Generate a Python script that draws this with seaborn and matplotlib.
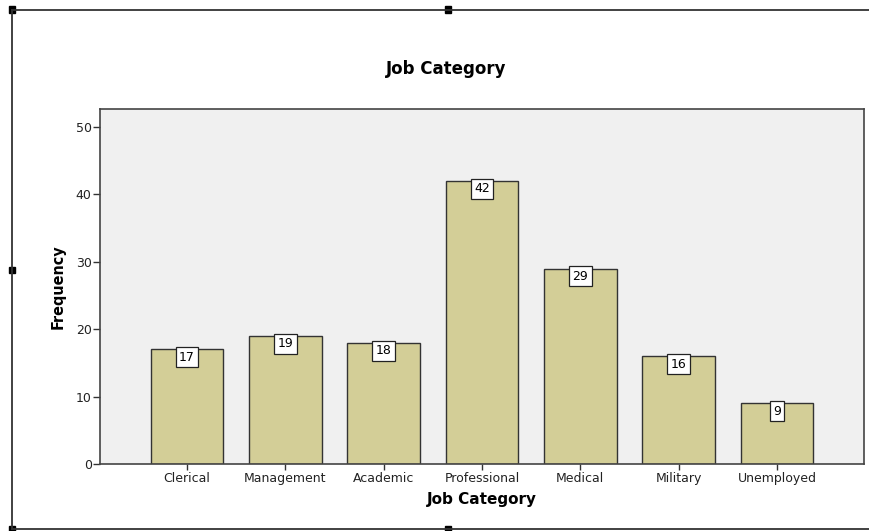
import matplotlib
matplotlib.use('Agg')
import matplotlib.pyplot as plt
import matplotlib.patches as mpatches
import matplotlib.lines as mlines
import seaborn as sns

# data
categories = ['Clerical', 'Management', 'Academic', 'Professional', 'Medical', 'Military', 'Unemployed']
frequency = [17, 19, 18, 42, 29, 16, 9]
y_ticks = [0, 10, 20, 30, 40, 50]

W, H = 869, 531
fig = plt.figure(figsize=(W / 100, H / 100), dpi=100)
fig.patch.set_facecolor('white')

# plot area in pixels: left 100, right 864, top 108.5, bottom 464
ax = fig.add_axes([100 / W, (H - 464) / H, 764 / W, 355.5 / H])
ax.set_facecolor('#f0f0f0')

sns.barplot(x=categories, y=frequency, color='#d3ce97', saturation=1,
            width=0.742, edgecolor='#333333', linewidth=1, ax=ax)

ax.set_xlim(-0.885, 6.885)
ax.set_ylim(0, 52.74)
ax.set_yticks(y_ticks)

for i, v in enumerate(frequency):
    ax.annotate(str(v), xy=(i, v), xytext=(0, -1.0), textcoords='offset points',
                ha='center', va='top', fontsize=9, family='DejaVu Sans',
                bbox=dict(boxstyle='square,pad=0.28', fc='white', ec='#222222', lw=0.9))

for side in ['left', 'bottom', 'top', 'right']:
    ax.spines[side].set_color('#444444')
    ax.spines[side].set_linewidth(1.2)

ax.tick_params(axis='y', direction='out', length=5, width=1, color='#333333',
               labelsize=9, pad=1, labelcolor='#222222')
ax.tick_params(axis='x', direction='out', length=4, width=1, color='#333333',
               labelsize=9, pad=2, labelcolor='#222222')
for lab in ax.get_xticklabels() + ax.get_yticklabels():
    lab.set_family('DejaVu Sans')

ax.set_xlabel('Job Category', fontsize=11, fontweight='bold', family='DejaVu Sans', labelpad=5)
ax.set_ylabel('Frequency', fontsize=11.5, fontweight='bold', fontstretch='condensed',
              family=['Liberation Sans Narrow', 'DejaVu Sans'], labelpad=7)

fig.text(446 / W, 1 - 69 / H, 'Job Category', ha='center', va='center',
         fontsize=12, fontweight='bold', family='DejaVu Sans')

# outer frame with selection handles
def px(x, y):
    return x / W, 1 - y / H

fx0, fy0 = px(12, 9.5)
fx1, fy1 = px(869, 529)
for xs, ys in [([fx0, fx1], [fy0, fy0]), ([fx0, fx0], [fy0, fy1]), ([fx0, fx1], [fy1, fy1])]:
    fig.add_artist(mlines.Line2D(xs, ys, color='#333333', lw=1.3, transform=fig.transFigure))

for hx, hy in [(12, 9.5), (448, 9.5), (12, 270), (12, 529), (448, 529)]:
    cx, cy = px(hx - 3, hy + 3)
    fig.add_artist(mpatches.Rectangle((cx, cy), 6 / W, 6 / H, color='black',
                                      transform=fig.transFigure))

fig.savefig('out.png', dpi=100)
